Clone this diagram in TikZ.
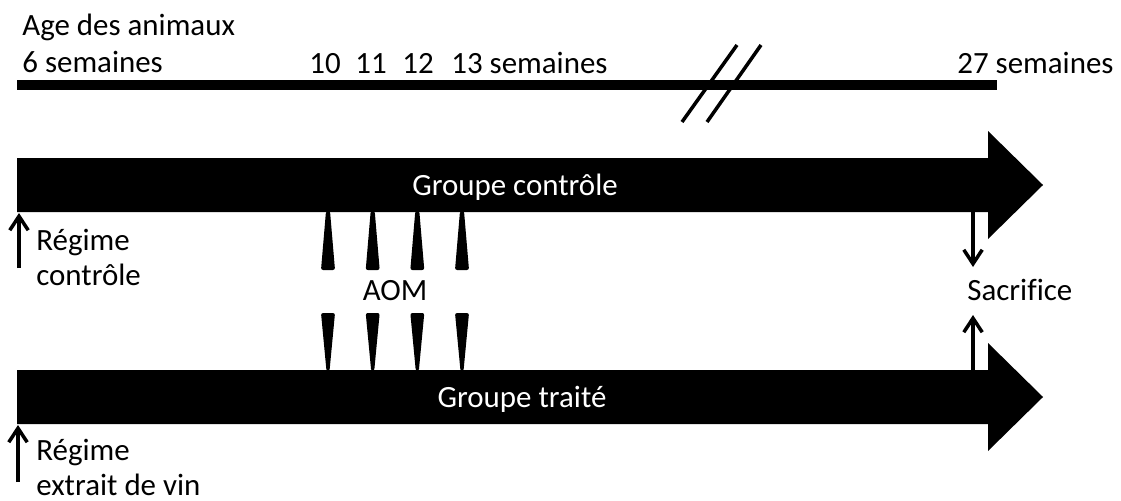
\documentclass[tikz,border=0pt]{standalone}
\usepackage{fontspec}
\setmainfont[Ligatures=NoCommon]{Carlito}
\usetikzlibrary{arrows.meta}
\begin{document}
\begin{tikzpicture}[x=0.02cm,y=-0.02cm,
  lbl/.style={inner sep=0pt, anchor=base west, font=\fontsize{17.6}{21}\selectfont},
  clbl/.style={lbl, anchor=base},
  band/.style={fill=black},
  thinarrow/.style={line width=2.2pt, -{Straight Barb[length=8pt,width=10.5pt,line width=2pt]}},
  slash/.style={line width=2pt},
  aomdown/.style={fill=black, rounded corners=1.2pt},
]
\useasboundingbox (0,0) rectangle (1121,500);

% time line
\coordinate (t0) at (17,85);
\coordinate (t1) at (997,85);
\draw[line width=5.6pt] (t0) -- (t1);
\draw[slash] (682,122) -- (737,45);
\draw[slash] (707,122) -- (761,45);

% labels of the time line
\node[lbl] (age) at (22,36) {Age des animaux};
\node[lbl] (w6) at (22,72) {6 semaines};
\node[clbl] (w10) at (325,73) {10};
\node[clbl] (w11) at (371,73) {11};
\node[clbl] (w12) at (418,73) {12};
\node[lbl] (w13) at (451,73) {13 semaines};
\node[lbl] (w27) at (957,73) {27 semaines};

% block arrows
\fill[band] (17,158) -- (988,158) -- (988,131) -- (1043,185) -- (988,239) -- (988,212) -- (17,212) -- cycle;
\fill[band] (17,370) -- (988,370) -- (988,343) -- (1043,397) -- (988,451) -- (988,424) -- (17,424) -- cycle;
\node[clbl, text=white] (gc) at (515,195) {Groupe contrôle};
\node[clbl, text=white] (gt) at (522,407) {Groupe traité};

% AOM injections
\foreach \x in {328,372.7,417.3,462}{
  \fill[aomdown] (\x-2,211) -- (\x+2,211) -- (\x+7,270) -- (\x-7,270) -- cycle;
  \fill[aomdown] (\x-7,313) -- (\x+7,313) -- (\x+1.5,371) -- (\x-1.5,371) -- cycle;
}
\node[clbl] (aom) at (395,300) {AOM};

% regime arrows
\coordinate (rc0) at (19,268);
\coordinate (rc1) at (19,213);
\draw[thinarrow] (rc0) -- (rc1);
\node[lbl] (rc) at (36,250) {Régime};
\node[lbl] (rcb) at (36,285) {contrôle};

\coordinate (rv0) at (18,482);
\coordinate (rv1) at (18,425);
\draw[thinarrow] (rv0) -- (rv1);
\node[lbl] (rv) at (36,460) {Régime};
\node[lbl] (rvb) at (36,495) {extrait de vin};

% sacrifice
\coordinate (s0) at (973,212);
\coordinate (s1) at (973,267);
\coordinate (s2) at (973,370);
\coordinate (s3) at (973,315);
\draw[thinarrow] (s0) -- (s1);
\draw[thinarrow] (s2) -- (s3);
\node[lbl] (sac) at (967,300) {Sacrifice};
\end{tikzpicture}
\end{document}
